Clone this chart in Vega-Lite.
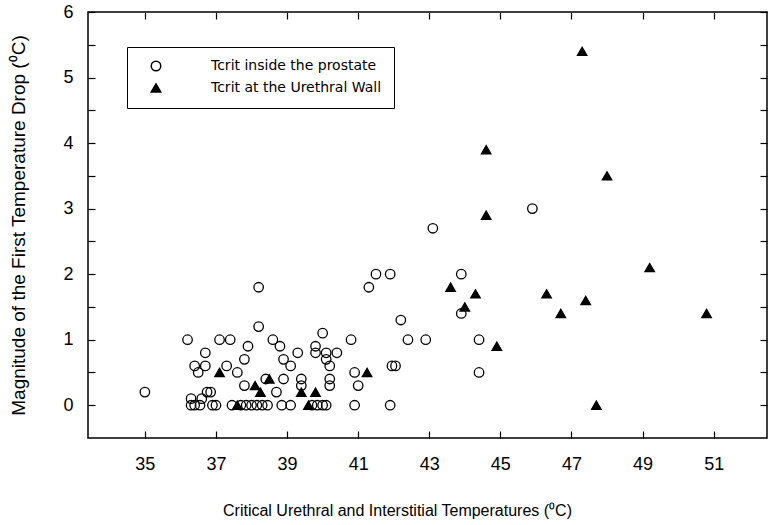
{
  "$schema": "https://vega.github.io/schema/vega-lite/v6.json",
  "width": 679,
  "height": 426,
  "autosize": {"type": "none"},
  "padding": {"left": 88, "top": 12, "right": 5, "bottom": 87},
  "background": "white",
  "config": {
    "view": {"stroke": "black", "strokeWidth": 1.5},
    "font": "Liberation Sans",
    "axis": {"grid": false, "domain": false, "labelColor": "black", "titleColor": "black", "titleFontWeight": "normal"}
  },
  "data": {
    "values": [
      {"temp": 35.0, "drop": 0.2, "group": "Tcrit inside the prostate"},
      {"temp": 36.2, "drop": 1.0, "group": "Tcrit inside the prostate"},
      {"temp": 37.1, "drop": 1.0, "group": "Tcrit inside the prostate"},
      {"temp": 37.4, "drop": 1.0, "group": "Tcrit inside the prostate"},
      {"temp": 37.9, "drop": 0.9, "group": "Tcrit inside the prostate"},
      {"temp": 38.2, "drop": 1.8, "group": "Tcrit inside the prostate"},
      {"temp": 38.2, "drop": 1.2, "group": "Tcrit inside the prostate"},
      {"temp": 38.6, "drop": 1.0, "group": "Tcrit inside the prostate"},
      {"temp": 38.8, "drop": 0.9, "group": "Tcrit inside the prostate"},
      {"temp": 40.0, "drop": 1.1, "group": "Tcrit inside the prostate"},
      {"temp": 40.8, "drop": 1.0, "group": "Tcrit inside the prostate"},
      {"temp": 36.7, "drop": 0.8, "group": "Tcrit inside the prostate"},
      {"temp": 37.8, "drop": 0.7, "group": "Tcrit inside the prostate"},
      {"temp": 39.3, "drop": 0.8, "group": "Tcrit inside the prostate"},
      {"temp": 38.9, "drop": 0.7, "group": "Tcrit inside the prostate"},
      {"temp": 39.8, "drop": 0.9, "group": "Tcrit inside the prostate"},
      {"temp": 39.8, "drop": 0.8, "group": "Tcrit inside the prostate"},
      {"temp": 40.1, "drop": 0.8, "group": "Tcrit inside the prostate"},
      {"temp": 40.1, "drop": 0.7, "group": "Tcrit inside the prostate"},
      {"temp": 40.4, "drop": 0.8, "group": "Tcrit inside the prostate"},
      {"temp": 40.2, "drop": 0.6, "group": "Tcrit inside the prostate"},
      {"temp": 36.4, "drop": 0.6, "group": "Tcrit inside the prostate"},
      {"temp": 36.7, "drop": 0.6, "group": "Tcrit inside the prostate"},
      {"temp": 36.5, "drop": 0.5, "group": "Tcrit inside the prostate"},
      {"temp": 37.3, "drop": 0.6, "group": "Tcrit inside the prostate"},
      {"temp": 37.6, "drop": 0.5, "group": "Tcrit inside the prostate"},
      {"temp": 39.1, "drop": 0.6, "group": "Tcrit inside the prostate"},
      {"temp": 37.8, "drop": 0.3, "group": "Tcrit inside the prostate"},
      {"temp": 38.4, "drop": 0.4, "group": "Tcrit inside the prostate"},
      {"temp": 38.7, "drop": 0.2, "group": "Tcrit inside the prostate"},
      {"temp": 38.9, "drop": 0.4, "group": "Tcrit inside the prostate"},
      {"temp": 39.4, "drop": 0.4, "group": "Tcrit inside the prostate"},
      {"temp": 39.4, "drop": 0.3, "group": "Tcrit inside the prostate"},
      {"temp": 40.2, "drop": 0.4, "group": "Tcrit inside the prostate"},
      {"temp": 40.2, "drop": 0.3, "group": "Tcrit inside the prostate"},
      {"temp": 40.9, "drop": 0.5, "group": "Tcrit inside the prostate"},
      {"temp": 41.0, "drop": 0.3, "group": "Tcrit inside the prostate"},
      {"temp": 36.75, "drop": 0.2, "group": "Tcrit inside the prostate"},
      {"temp": 36.85, "drop": 0.2, "group": "Tcrit inside the prostate"},
      {"temp": 36.3, "drop": 0.1, "group": "Tcrit inside the prostate"},
      {"temp": 36.6, "drop": 0.1, "group": "Tcrit inside the prostate"},
      {"temp": 36.3, "drop": 0.0, "group": "Tcrit inside the prostate"},
      {"temp": 36.4, "drop": 0.0, "group": "Tcrit inside the prostate"},
      {"temp": 36.55, "drop": 0.0, "group": "Tcrit inside the prostate"},
      {"temp": 36.9, "drop": 0.0, "group": "Tcrit inside the prostate"},
      {"temp": 37.0, "drop": 0.0, "group": "Tcrit inside the prostate"},
      {"temp": 37.45, "drop": 0.0, "group": "Tcrit inside the prostate"},
      {"temp": 37.7, "drop": 0.0, "group": "Tcrit inside the prostate"},
      {"temp": 37.85, "drop": 0.0, "group": "Tcrit inside the prostate"},
      {"temp": 38.0, "drop": 0.0, "group": "Tcrit inside the prostate"},
      {"temp": 38.15, "drop": 0.0, "group": "Tcrit inside the prostate"},
      {"temp": 38.3, "drop": 0.0, "group": "Tcrit inside the prostate"},
      {"temp": 38.45, "drop": 0.0, "group": "Tcrit inside the prostate"},
      {"temp": 38.85, "drop": 0.0, "group": "Tcrit inside the prostate"},
      {"temp": 39.1, "drop": 0.0, "group": "Tcrit inside the prostate"},
      {"temp": 39.7, "drop": 0.0, "group": "Tcrit inside the prostate"},
      {"temp": 39.85, "drop": 0.0, "group": "Tcrit inside the prostate"},
      {"temp": 40.0, "drop": 0.0, "group": "Tcrit inside the prostate"},
      {"temp": 40.1, "drop": 0.0, "group": "Tcrit inside the prostate"},
      {"temp": 40.9, "drop": 0.0, "group": "Tcrit inside the prostate"},
      {"temp": 41.9, "drop": 0.0, "group": "Tcrit inside the prostate"},
      {"temp": 43.1, "drop": 2.7, "group": "Tcrit inside the prostate"},
      {"temp": 41.5, "drop": 2.0, "group": "Tcrit inside the prostate"},
      {"temp": 41.9, "drop": 2.0, "group": "Tcrit inside the prostate"},
      {"temp": 41.3, "drop": 1.8, "group": "Tcrit inside the prostate"},
      {"temp": 43.9, "drop": 2.0, "group": "Tcrit inside the prostate"},
      {"temp": 43.9, "drop": 1.4, "group": "Tcrit inside the prostate"},
      {"temp": 42.2, "drop": 1.3, "group": "Tcrit inside the prostate"},
      {"temp": 42.4, "drop": 1.0, "group": "Tcrit inside the prostate"},
      {"temp": 42.9, "drop": 1.0, "group": "Tcrit inside the prostate"},
      {"temp": 44.4, "drop": 1.0, "group": "Tcrit inside the prostate"},
      {"temp": 41.95, "drop": 0.6, "group": "Tcrit inside the prostate"},
      {"temp": 42.05, "drop": 0.6, "group": "Tcrit inside the prostate"},
      {"temp": 44.4, "drop": 0.5, "group": "Tcrit inside the prostate"},
      {"temp": 45.9, "drop": 3.0, "group": "Tcrit inside the prostate"},
      {"temp": 37.1, "drop": 0.5, "group": "Tcrit at the Urethral Wall"},
      {"temp": 38.1, "drop": 0.3, "group": "Tcrit at the Urethral Wall"},
      {"temp": 38.5, "drop": 0.4, "group": "Tcrit at the Urethral Wall"},
      {"temp": 38.25, "drop": 0.2, "group": "Tcrit at the Urethral Wall"},
      {"temp": 39.4, "drop": 0.2, "group": "Tcrit at the Urethral Wall"},
      {"temp": 39.8, "drop": 0.2, "group": "Tcrit at the Urethral Wall"},
      {"temp": 37.6, "drop": 0.0, "group": "Tcrit at the Urethral Wall"},
      {"temp": 39.6, "drop": 0.0, "group": "Tcrit at the Urethral Wall"},
      {"temp": 41.25, "drop": 0.5, "group": "Tcrit at the Urethral Wall"},
      {"temp": 43.6, "drop": 1.8, "group": "Tcrit at the Urethral Wall"},
      {"temp": 44.3, "drop": 1.7, "group": "Tcrit at the Urethral Wall"},
      {"temp": 44.0, "drop": 1.5, "group": "Tcrit at the Urethral Wall"},
      {"temp": 44.9, "drop": 0.9, "group": "Tcrit at the Urethral Wall"},
      {"temp": 47.3, "drop": 5.4, "group": "Tcrit at the Urethral Wall"},
      {"temp": 44.6, "drop": 3.9, "group": "Tcrit at the Urethral Wall"},
      {"temp": 48.0, "drop": 3.5, "group": "Tcrit at the Urethral Wall"},
      {"temp": 44.6, "drop": 2.9, "group": "Tcrit at the Urethral Wall"},
      {"temp": 49.2, "drop": 2.1, "group": "Tcrit at the Urethral Wall"},
      {"temp": 46.3, "drop": 1.7, "group": "Tcrit at the Urethral Wall"},
      {"temp": 47.4, "drop": 1.6, "group": "Tcrit at the Urethral Wall"},
      {"temp": 46.7, "drop": 1.4, "group": "Tcrit at the Urethral Wall"},
      {"temp": 50.8, "drop": 1.4, "group": "Tcrit at the Urethral Wall"},
      {"temp": 47.7, "drop": 0.0, "group": "Tcrit at the Urethral Wall"}
    ]
  },
  "layer": [
    {
      "mark": {"type": "point", "filled": true, "stroke": "black", "strokeWidth": 1.3, "size": 90, "opacity": 1},
      "encoding": {
        "x": {
          "field": "temp", "type": "quantitative",
          "scale": {"domain": [33.4, 52.5], "nice": false, "zero": false},
          "axis": {"values": [35, 37, 39, 41, 43, 45, 47, 49, 51], "zindex": 1, "tickSize": -7, "tickWidth": 1.2, "tickColor": "black", "labelPadding": 24, "labelFont": "Liberation Sans", "labelFontSize": 18, "title": "Critical Urethral and Interstitial Temperatures (\u2070C)", "titleFontSize": 16, "titlePadding": 29, "titleX": 309}
        },
        "y": {
          "field": "drop", "type": "quantitative",
          "scale": {"domain": [-0.5, 6], "nice": false, "zero": false},
          "axis": {"values": [0, 0.5, 1, 1.5, 2, 2.5, 3, 3.5, 4, 4.5, 5, 5.5, 6], "zindex": 1, "labelExpr": "datum.value % 1 === 0 ? format(datum.value, 'd') : ''", "tickSize": -7, "tickWidth": 1.2, "tickColor": "black", "labelPadding": 22, "labelFont": "Liberation Sans", "labelFontSize": 18, "title": "Magnitude of the First Temperature Drop  (\u2070C)", "titleFontSize": 19, "titlePadding": 34}
        },
        "shape": {
          "field": "group", "type": "nominal",
          "scale": {"domain": ["Tcrit inside the prostate", "Tcrit at the Urethral Wall"], "range": ["circle", "triangle-up"]},
          "legend": {"orient": "none", "legendX": 39, "legendY": 35, "title": null, "strokeColor": "black", "fillColor": "white", "padding": 12, "symbolOffset": 10, "labelOffset": 48, "labelLimit": 400, "labelFont": "DejaVu Sans", "labelFontSize": 14, "labelColor": "black", "rowPadding": 6, "symbolSize": 90, "symbolOpacity": 1,
            "encode": {"symbols": {"update": {"stroke": {"value": "black"}, "strokeWidth": {"value": 1.3}, "opacity": {"value": 1}}}}}
        },
        "fill": {
          "field": "group", "type": "nominal",
          "scale": {"domain": ["Tcrit inside the prostate", "Tcrit at the Urethral Wall"], "range": ["transparent", "black"]},
          "legend": {"orient": "none", "legendX": 39, "legendY": 35, "title": null, "strokeColor": "black", "fillColor": "white", "padding": 12, "symbolOffset": 10, "labelOffset": 48, "labelLimit": 400, "labelFont": "DejaVu Sans", "labelFontSize": 14, "labelColor": "black", "rowPadding": 6, "symbolSize": 90, "symbolOpacity": 1,
            "encode": {"symbols": {"update": {"stroke": {"value": "black"}, "strokeWidth": {"value": 1.3}, "opacity": {"value": 1}}}}}
        }
      }
    },
    {
      "mark": {"type": "point", "opacity": 0},
      "encoding": {
        "x": {"field": "temp", "type": "quantitative", "axis": {"orient": "top", "values": [35, 37, 39, 41, 43, 45, 47, 49, 51], "zindex": 1, "tickSize": -7, "tickWidth": 1.2, "tickColor": "black", "labels": false, "title": null}},
        "y": {"field": "drop", "type": "quantitative", "axis": {"orient": "right", "values": [0, 0.5, 1, 1.5, 2, 2.5, 3, 3.5, 4, 4.5, 5, 5.5, 6], "zindex": 1, "tickSize": -7, "tickWidth": 1.2, "tickColor": "black", "labels": false, "title": null}}
      }
    }
  ],
  "resolve": {"axis": {"x": "independent", "y": "independent"}}
}
